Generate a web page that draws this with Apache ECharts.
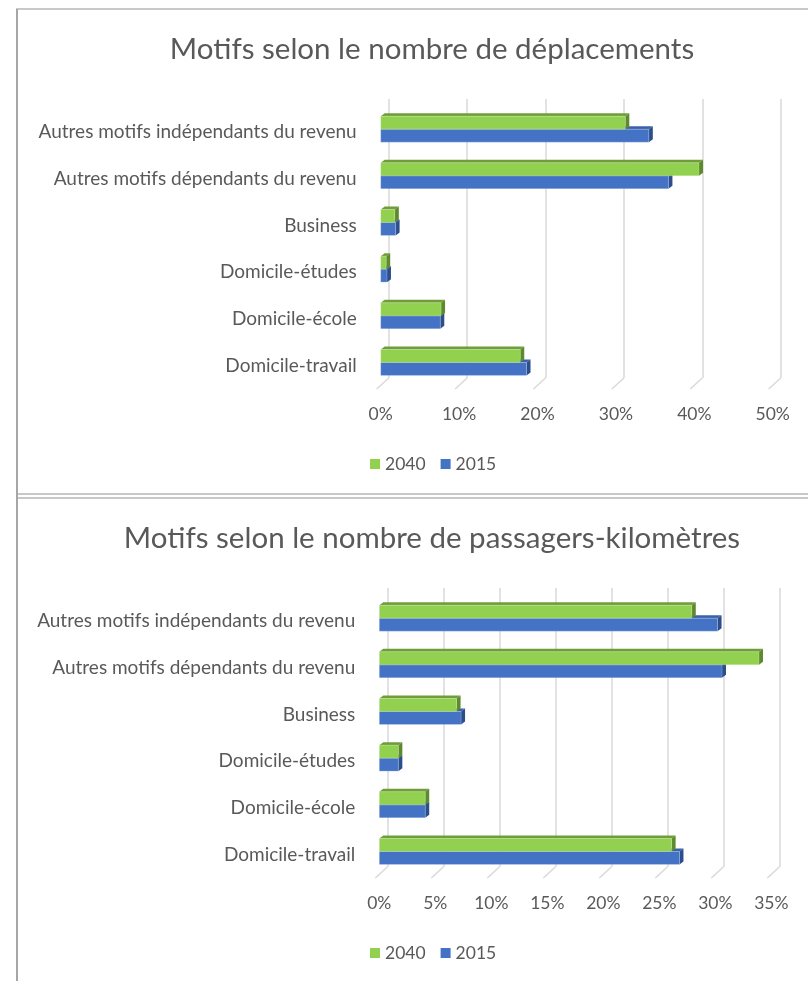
<!DOCTYPE html>
<html>
<head>
<meta charset="utf-8">
<script src="https://cdn.jsdelivr.net/npm/echarts@6/dist/echarts.min.js"></script>
<style>
html,body{margin:0;padding:0;background:#fff;}
#chart{width:808px;height:981px;}
</style>
</head>
<body>
<div id="chart"></div>
<script>
// ---- data (top to bottom order) ----
const categories = [
  'Autres motifs indépendants du revenu',
  'Autres motifs dépendants du revenu',
  'Business',
  'Domicile-études',
  'Domicile-école',
  'Domicile-travail'
];
const seriesNames = ['2040', '2015'];
// Panel 1: share of trips (%)
const trips2040 = [31.2, 40.6, 1.8, 0.7, 7.7, 17.8];
const trips2015 = [34.2, 36.7, 1.9, 0.8, 7.6, 18.6];
// Panel 2: share of passenger-km (%)
const pkm2040 = [27.9, 33.9, 6.9, 1.7, 4.1, 26.1];
const pkm2015 = [30.2, 30.6, 7.3, 1.7, 4.1, 26.8];
// tick values
const ticks1 = [0, 10, 20, 30, 40, 50];
const ticks2 = [0, 5, 10, 15, 20, 25, 30, 35];
const title1 = 'Motifs selon le nombre de déplacements';
const title2 = 'Motifs selon le nombre de passagers-kilomètres';

// ---- styles ----
const FONT = 'Lato';
const TXT = '#595959';
const GREEN = {front:'#92D050', top:'#6f9e38', side:'#5d8a2c'};
const BLUE = {front:'#4472C4', top:'#3a62a8', side:'#2c4f8c'};

function bar3d(upper, col) {
  return function (params, api) {
    const v = api.value(0), c = api.value(1);
    const p0 = api.coord([0, c]);
    const p1 = api.coord([v, c]);
    const h = 13, d = 4, dy = 3;
    const y0 = upper ? p0[1] - h : p0[1];
    const x0 = p0[0], x1 = p1[0];
    return {type:'group', children:[
      {type:'polygon', shape:{points:[[x0,y0],[x0+d,y0-dy],[x1+d,y0-dy],[x1,y0]]}, style:{fill:col.top}},
      {type:'polygon', shape:{points:[[x1,y0],[x1+d,y0-dy],[x1+d,y0+h-dy],[x1,y0+h]]}, style:{fill:col.side}},
      {type:'rect', shape:{x:x0, y:y0, width:x1-x0, height:h}, style:{fill:col.front, stroke:'rgba(255,255,255,0.35)', lineWidth:0.6}}
    ]};
  };
}
function floorTick(params, api) {
  const p = api.coord([api.value(0), 0]);
  return {type:'line', shape:{x1:p[0], y1:p[1], x2:p[0]-12, y2:p[1]+11}, style:{stroke:'#d9d9d9', lineWidth:1.5}};
}
const toData = arr => arr.map((v, i) => [v, i]);

const chart = echarts.init(document.getElementById('chart'), null, {renderer:'canvas'});

function panel(idx, dy, bars2040, bars2015, ticks, step, wallLeft, frontLeft, title) {
  const maxV = ticks[ticks.length - 1];
  const width = (ticks.length - 1) * step;
  const g0 = idx * 3, g1 = idx * 3 + 1, g2 = idx * 3 + 2;
  return {
    grids: [
      {left: frontLeft, width: width, top: 105.8 + dy, height: 280},
      {left: wallLeft, width: width, top: 99 + dy, height: 279},
      {left: frontLeft, width: width, top: 108.8 + dy, height: 280}
    ],
    xAxes: [
      {gridIndex: g0, type:'value', min:0, max:maxV, interval: ticks[1]-ticks[0],
       axisLine:{show:false}, axisTick:{show:false}, splitLine:{show:false},
       axisLabel:{formatter:'{value}%', color:TXT, fontFamily:FONT, fontSize:17.5, margin:20}},
      {gridIndex: g1, type:'value', min:0, max:maxV, interval: ticks[1]-ticks[0],
       axisLine:{show:false}, axisTick:{show:false}, axisLabel:{show:false},
       splitLine:{show:true, lineStyle:{color:'#d9d9d9', width:1.5}}},
      {gridIndex: g2, type:'value', min:0, max:maxV, show:false}
    ],
    yAxes: [
      {gridIndex: g0, type:'category', data:categories, inverse:true,
       axisLine:{show:false}, axisTick:{show:false}, axisLabel:{show:false}},
      {gridIndex: g1, type:'value', min:0, max:1, show:false},
      {gridIndex: g2, type:'category', data:categories, inverse:true,
       axisLine:{show:false}, axisTick:{show:false}, splitLine:{show:false},
       axisLabel:{color:TXT, fontFamily:FONT, fontSize:19, margin:24}}
    ],
    series: [
      {type:'custom', name:'2015', xAxisIndex:g0, yAxisIndex:g0, itemStyle:{color:BLUE.front},
       renderItem: bar3d(false, BLUE), data: toData(bars2015), z:3},
      {type:'custom', name:'2040', xAxisIndex:g0, yAxisIndex:g0, itemStyle:{color:GREEN.front},
       renderItem: bar3d(true, GREEN), data: toData(bars2040), z:4},
      {type:'custom', name:'floor'+idx, xAxisIndex:g1, yAxisIndex:g1, silent:true,
       renderItem: floorTick, data: ticks.map(t => [t]), z:1}
    ],
    title: {text:title, left:427, top:29 + dy, textAlign:'center',
            textStyle:{color:TXT, fontFamily:FONT, fontSize:29.5, fontWeight:'normal'}},
    legend: {data:seriesNames, left:365, top:450 + dy, icon:'rect', itemWidth:10, itemHeight:10,
             itemGap:15, textStyle:{color:TXT, fontFamily:FONT, fontSize:17.5}}
  };
}

const p1 = panel(0, 0, trips2040, trips2015, ticks1, 78.4, 388.7, 380.7, title1);
const p2 = panel(1, 489, pkm2040, pkm2015, ticks2, 56, 387.3, 379.3, title2);

chart.setOption({
  animation:false,
  backgroundColor:'#fff',
  title:[p1.title, p2.title],
  legend:[p1.legend, p2.legend],
  grid:[...p1.grids, ...p2.grids],
  xAxis:[...p1.xAxes, ...p2.xAxes],
  yAxis:[...p1.yAxes, ...p2.yAxes],
  series:[...p1.series, ...p2.series],
  graphic:[
    {type:'rect', shape:{x:17, y:9, width:900, height:485}, style:{fill:'none', stroke:'#c8c8c8', lineWidth:2}, z:-1},
    {type:'rect', shape:{x:17, y:498, width:900, height:600}, style:{fill:'none', stroke:'#c8c8c8', lineWidth:2}, z:-1},
    {type:'line', shape:{x1:17, y1:9, x2:17, y2:981}, style:{stroke:'#a6a6a6', lineWidth:2}, z:-1}
  ]
});
</script>
</body>
</html>
